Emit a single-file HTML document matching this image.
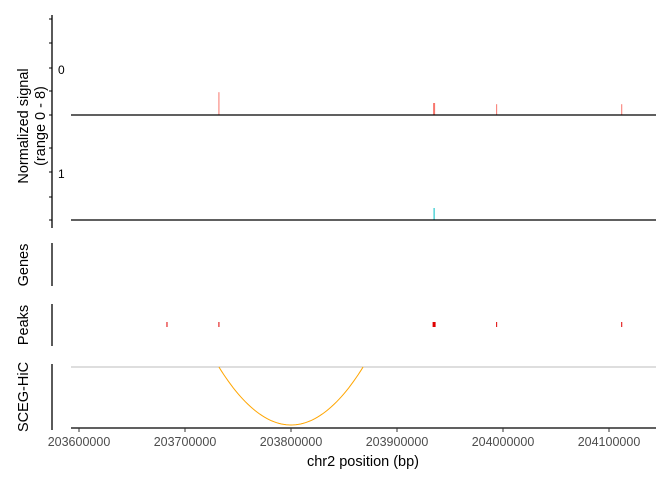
<!DOCTYPE html>
<html><head><meta charset="utf-8"><style>
body{margin:0;background:#fff}
svg{display:block;font-family:"Liberation Sans",sans-serif}
</style></head><body>
<svg id="chart" width="672" height="480" xmlns="http://www.w3.org/2000/svg"></svg>
<script>
const xTicks=[203600000,203700000,203800000,203900000,204000000,204100000];
const track1Pos=[203732000,203935000,203994000,204112000];
const track1Val=[1.9,1.0,0.9,0.9];
const track1Wid=[1,2,1,1];
const track2Pos=[203935000];
const track2Val=[1.0];
const peakPos=[203683000,203732000,203935000,203994000,204112000];
const peakWid=[1,1,3,1,1];
const loopStart=[203732000];
const loopEnd=[203868000];

const svg=document.getElementById('chart');
const NS='http://www.w3.org/2000/svg';
function X(v){return 79+(v-203600000)*106/100000;}
function mk(tag,attrs,parent){const e=document.createElementNS(NS,tag);for(const k in attrs)e.setAttribute(k,attrs[k]);(parent||svg).appendChild(e);return e;}
function txt(s,x,y,attrs){const e=mk('text',Object.assign({x:x,y:y},attrs||{}));e.textContent=s;return e;}

let a=mk('line',{x1:52,y1:15,x2:52,y2:228,stroke:'#000','stroke-width':1.3});


[19,43,68,91,115,148,172,197,220].forEach(y=>{
  const t=mk('line',{x1:49,y1:y,x2:52,y2:y,stroke:'#000'});
  
  
});
let l0=txt('0',58,74,{'font-size':12,fill:'#000'});


let l1=txt('1',58,178,{'font-size':12,fill:'#000'});


let yt=txt('Normalized signal',28,126,{'font-size':14.5,'text-anchor':'middle',transform:'rotate(-90 28 126)'});


let yt2=txt('(range 0 - 8)',45,126,{'font-size':14.5,'text-anchor':'middle',transform:'rotate(-90 45 126)'});



const PX=12;
function bars(pos,val,wid,base,color,name){
  pos.forEach((p,i)=>{
    const h=val[i]*PX;const w=wid?wid[i]:1;
    const r=mk('rect',{x:X(p)-w/2,y:base-h,width:w,height:h,fill:color});
    
    
  });
}
bars(track1Pos,track1Val,track1Wid,115,'#F8766D','signal-bar-track1');
bars(track2Pos,track2Val,null,220,'#00BFC4','signal-bar-track2');
let b1=mk('line',{x1:71,y1:115,x2:656,y2:115,stroke:'#000','stroke-width':1.3});


let b2=mk('line',{x1:71,y1:220,x2:656,y2:220,stroke:'#000','stroke-width':1.3});



let ga=mk('line',{x1:52,y1:243,x2:52,y2:286,stroke:'#000','stroke-width':1.3});


let gl=txt('Genes',28,265,{'font-size':14.5,'text-anchor':'middle',transform:'rotate(-90 28 265)'});



let pa=mk('line',{x1:52,y1:304,x2:52,y2:346,stroke:'#000','stroke-width':1.3});


let pl=txt('Peaks',28,325,{'font-size':14.5,'text-anchor':'middle',transform:'rotate(-90 28 325)'});


peakPos.forEach((p,i)=>{
  const r=mk('rect',{x:X(p)-peakWid[i]/2,y:322,width:peakWid[i],height:5,fill:'#E00000'});
  
  
});

let ha=mk('line',{x1:52,y1:364,x2:52,y2:430,stroke:'#000','stroke-width':1.3});


let hl=txt('SCEG-HiC',28,397,{'font-size':14.5,'text-anchor':'middle',transform:'rotate(-90 28 397)'});


let hg=mk('line',{x1:71,y1:367,x2:656,y2:367,stroke:'#BEBEBE','stroke-width':1});


loopStart.forEach((s,i)=>{
  const x1=X(s),x2=X(loopEnd[i]);let d='';
  for(let k=0;k<=60;k++){const t=k/60;const x=x1+(x2-x1)*t;const u=2*t-1;const y=367+58*(1-u*u);d+=(k?'L':'M')+x.toFixed(1)+','+y.toFixed(1);}
  const p=mk('path',{d:d,fill:'none',stroke:'#FFA500','stroke-width':1});
  
  
});
let xa=mk('line',{x1:71,y1:428,x2:656,y2:428,stroke:'#000','stroke-width':1.3});


xTicks.forEach(v=>{
  const t=mk('line',{x1:X(v),y1:428,x2:X(v),y2:432,stroke:'#333'});
  
  
  const l=txt(String(v),X(v),446,{'font-size':12.5,'text-anchor':'middle',fill:'#4D4D4D'});
  
  
});
let xt=txt('chr2 position (bp)',363,466,{'font-size':14.5,'text-anchor':'middle'});


</script>
</body></html>
